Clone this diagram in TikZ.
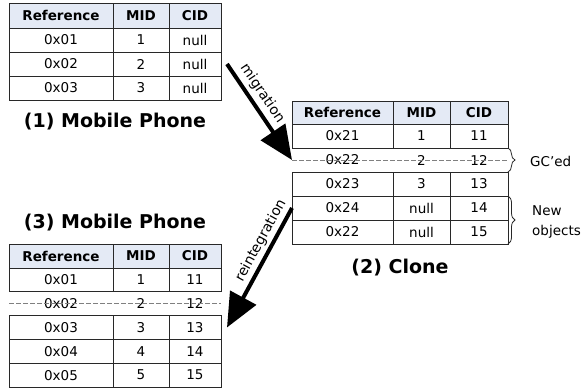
\documentclass[tikz,border=0pt]{standalone}
\usepackage{fontspec}
\setmainfont{DejaVu Sans}
\usetikzlibrary{arrows.meta,decorations.pathreplacing}
\definecolor{hdr}{RGB}{228,234,245}
\definecolor{bord}{RGB}{40,40,40}
\definecolor{strk}{RGB}{128,128,128}
\newcommand{\trow}[8]{%
  \node[#8, minimum width={(\xb-\xa)*1pt}, minimum height={(#4-#3)*1pt}] (#1-#2-1) at ({(\xa+\xb)/2},{(#3+#4)/2}) {#5};
  \node[#8, minimum width={(\xc-\xb)*1pt}, minimum height={(#4-#3)*1pt}] (#1-#2-2) at ({(\xb+\xc)/2},{(#3+#4)/2}) {#6};
  \node[#8, minimum width={(\xd-\xc)*1pt}, minimum height={(#4-#3)*1pt}] (#1-#2-3) at ({(\xc+\xd)/2},{(#3+#4)/2}) {#7};
}
\begin{document}
\begin{tikzpicture}[x=1pt,y=-1pt,
  cell/.style={draw=bord, line width=0.8pt, inner sep=0pt, outer sep=0pt, font=\fontsize{13.5}{15}\selectfont, text=black},
  head/.style={cell, fill=hdr, font=\fontsize{13.5}{15}\selectfont\bfseries},
  gone/.style={inner sep=0pt, outer sep=0pt, font=\fontsize{13.5}{15}\selectfont},
  strike/.style={draw=strk, line width=0.8pt, dash pattern=on 4.5pt off 2.5pt},
  title/.style={font=\fontsize{19}{22}\selectfont\bfseries, inner sep=0pt},
  flow/.style={line width=4pt, -{Triangle[length=34pt,width=29pt]}},
  lbl/.style={font=\fontsize{14}{16}\selectfont, inner sep=1pt},
  side/.style={font=\fontsize{13.5}{20}\selectfont, inner sep=0pt, anchor=west},
  brc/.style={draw=bord, line width=0.8pt, decorate, decoration={brace, amplitude=7pt}}
]
\useasboundingbox (0,0) rectangle (586,390);
% table 1
\def\xa{9}\def\xb{113}\def\xc{169}\def\xd{221}
\trow{a}{0}{3}{28}{Reference}{MID}{CID}{head}
\trow{a}{1}{28}{52}{0x01}{1}{null}{cell}
\trow{a}{2}{52}{76}{0x02}{2}{null}{cell}
\trow{a}{3}{76}{100}{0x03}{3}{null}{cell}
% table 2
\def\xa{292}\def\xb{393}\def\xc{450}\def\xd{508}
\trow{b}{0}{101}{124}{Reference}{MID}{CID}{head}
\trow{b}{1}{124}{148}{0x21}{1}{11}{cell}
\trow{b}{2}{148}{172}{0x22}{2}{12}{gone}
\trow{b}{3}{172}{196}{0x23}{3}{13}{cell}
\trow{b}{4}{196}{220}{0x24}{null}{14}{cell}
\trow{b}{5}{220}{244}{0x22}{null}{15}{cell}
\draw[strike] (b-2-1.west) -- (b-2-3.east);
% table 3
\def\xa{9}\def\xb{113}\def\xc{169}\def\xd{221}
\trow{c}{0}{244}{268}{Reference}{MID}{CID}{head}
\trow{c}{1}{268}{291.8}{0x01}{1}{11}{cell}
\trow{c}{2}{291.8}{315.6}{0x02}{2}{12}{gone}
\trow{c}{3}{315.6}{339.4}{0x03}{3}{13}{cell}
\trow{c}{4}{339.4}{363.2}{0x04}{4}{14}{cell}
\trow{c}{5}{363.2}{387}{0x05}{5}{15}{cell}
\draw[strike] (c-2-1.west) -- (c-2-3.east);
% titles
\node[title, anchor=base] (t1) at (115,128) {(1) Mobile Phone};
\node[title, anchor=base] (t2) at (400,273) {(2) Clone};
\node[title, anchor=base] (t3) at (115,228) {(3) Mobile Phone};
% arrows
\draw[flow] ([xshift=6pt]a-2-3.east) -- node[lbl, sloped, above=3pt, pos=0.38]{migration} (b-2-1.west);
\draw[flow] (b-4-1.west) -- node[lbl, sloped, above=2pt, pos=0.32]{reintegration} ([xshift=6pt]c-3-3.east);
% braces
\draw[brc] (b-2-3.north east) -- (b-2-3.south east);
\draw[brc] (b-4-3.north east) -- (b-5-3.south east);
\node[side] (gc) at (530,161) {GC'ed};
\node[side, align=left] (newobj) at (532,222) {New\\objects};
\end{tikzpicture}
\end{document}
